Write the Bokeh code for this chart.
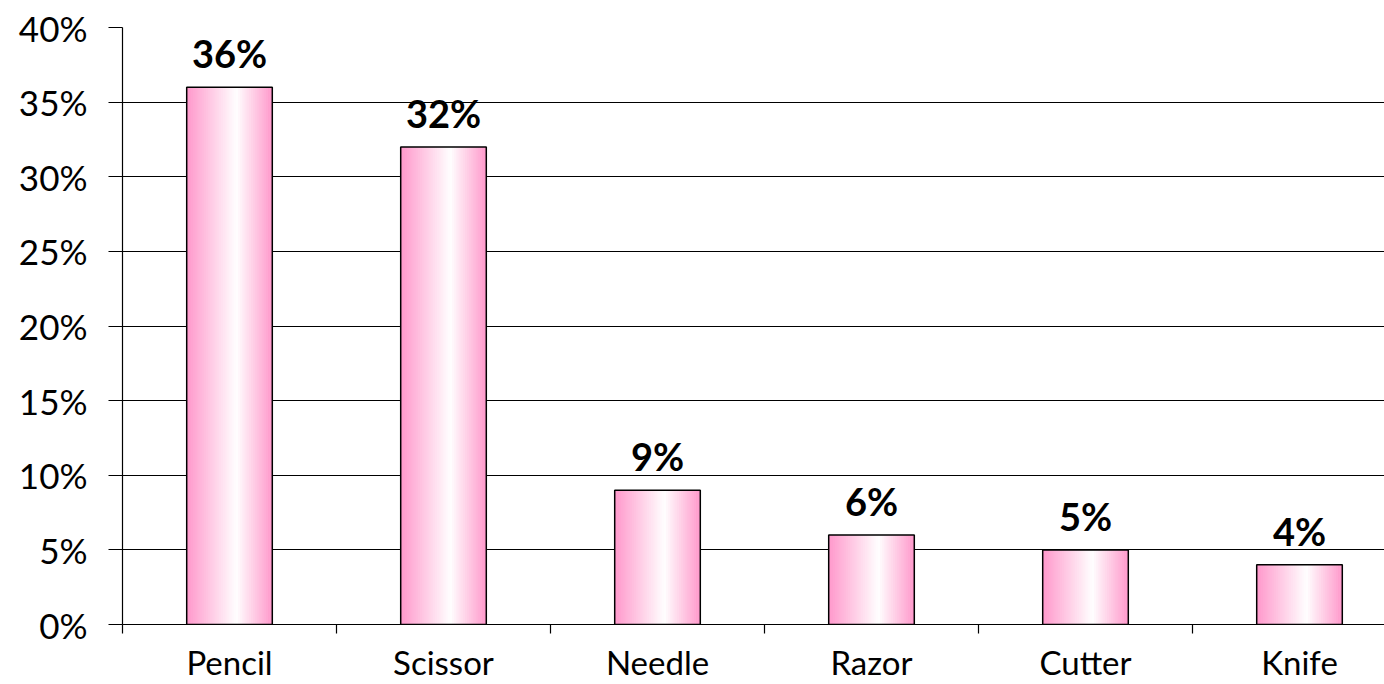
from bokeh.plotting import figure
from bokeh.models import Range1d, FixedTicker, ColumnDataSource
from bokeh.core.properties import value
from bokeh.embed import file_html
from bokeh.resources import INLINE

categories = ["Pencil", "Scissor", "Needle", "Razor", "Cutter", "Knife"]
values = [36, 32, 9, 6, 5, 4]
value_labels = ["36%", "32%", "9%", "6%", "5%", "4%"]
y_ticks = [0, 5, 10, 15, 20, 25, 30, 35, 40]
y_tick_labels = ["0%", "5%", "10%", "15%", "20%", "25%", "30%", "35%", "40%"]

FONT = "Lato"
PINK = (255, 153, 204)
BAR_W = 0.4
N_STRIPS = 40
PEAK = 0.58

n = len(categories)
centers = [i + 0.5 for i in range(n)]

p = figure(width=1384, height=684, output_backend="svg", toolbar_location=None,
           x_range=Range1d(0, (1384 - 122) / 214), y_range=Range1d(0, 40),
           min_border_left=122, min_border_right=0, min_border_top=27,
           min_border_bottom=59)
p.outline_line_color = None
p.background_fill_color = "white"
p.border_fill_color = "white"

# gradient strips (drawn left to right, each overlapping the next)
xs, tops, ws, cols = [], [], [], []
for i, v in enumerate(values):
    left = centers[i] - BAR_W / 2
    sw = BAR_W / N_STRIPS
    for j in range(N_STRIPS):
        t = (j + 0.5) / N_STRIPS
        f = t / PEAK if t < PEAK else (1 - t) / (1 - PEAK)
        r = int(PINK[0] + (255 - PINK[0]) * f)
        g = int(PINK[1] + (255 - PINK[1]) * f)
        b = int(PINK[2] + (255 - PINK[2]) * f)
        w = sw * 2 if j < N_STRIPS - 1 else sw
        xs.append(left + j * sw + w / 2)
        tops.append(v)
        ws.append(w)
        cols.append("#%02x%02x%02x" % (r, g, b))
src = ColumnDataSource(dict(x=xs, top=tops, w=ws, c=cols))
p.vbar(x="x", top="top", width="w", bottom=0, fill_color="c", line_color=None, source=src)
p.vbar(x=centers, top=values, width=BAR_W, bottom=0, fill_color=None,
       line_color="black", line_width=1.5)

p.text(x=centers, y=values, text=value_labels, y_offset=-34, text_align="center",
       text_baseline="alphabetic", text_font=value(FONT), text_font_style="bold",
       text_font_size="38px", text_color="black")

# grid
p.xgrid.visible = False
p.ygrid.ticker = FixedTicker(ticks=y_ticks)
p.ygrid.grid_line_color = "black"
p.ygrid.grid_line_width = 1.2
p.ygrid.grid_line_alpha = 1.0

# y axis
p.yaxis.ticker = FixedTicker(ticks=y_ticks)
p.yaxis.major_label_overrides = {t: l for t, l in zip(y_ticks, y_tick_labels)}
p.yaxis.major_label_text_font = FONT
p.yaxis.major_label_text_font_size = "35px"
p.yaxis.major_label_text_color = "black"
p.yaxis.major_tick_out = 14
p.yaxis.major_tick_in = 0
p.yaxis.minor_tick_out = 0
p.yaxis.minor_tick_in = 0
p.yaxis.major_label_standoff = 21
p.yaxis.axis_line_color = "black"
p.yaxis.axis_line_width = 1.2
p.yaxis.major_tick_line_width = 1.2

# x axis
p.xaxis.ticker = FixedTicker(ticks=centers, minor_ticks=list(range(n + 1)))
p.xaxis.major_label_overrides = {c: l for c, l in zip(centers, categories)}
p.xaxis.major_label_text_font = FONT
p.xaxis.major_label_text_font_size = "33px"
p.xaxis.major_label_text_color = "black"
p.xaxis.major_tick_out = 0
p.xaxis.major_tick_in = 0
p.xaxis.minor_tick_out = 9
p.xaxis.minor_tick_in = 0
p.xaxis.minor_tick_line_color = "black"
p.xaxis.minor_tick_line_width = 1.2
p.xaxis.major_label_standoff = 8
p.xaxis.axis_line_color = "black"
p.xaxis.axis_line_width = 1.2

open("out.html", "w").write(file_html(p, INLINE))
